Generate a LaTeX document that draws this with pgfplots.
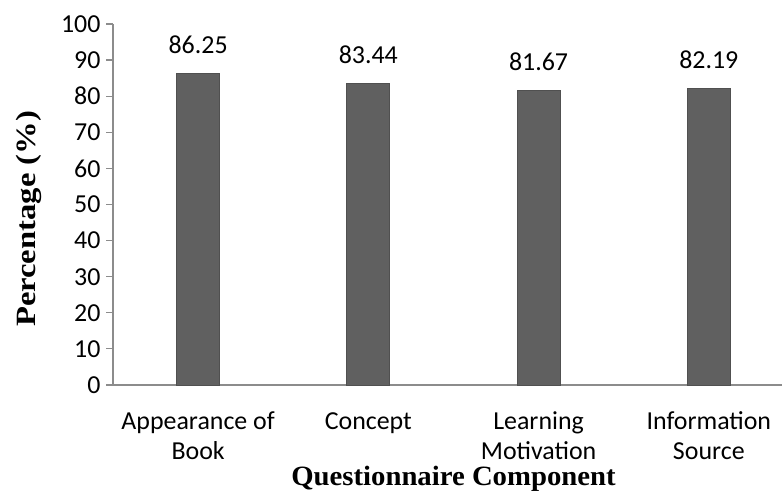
\documentclass[border=0pt]{standalone}
\usepackage{pgfplots}
\pgfplotsset{compat=1.18}
\usepackage{fontspec}
\setmainfont{Carlito}
\newfontfamily\serifb{Liberation Serif}
\definecolor{barfill}{HTML}{606060}
\definecolor{baredge}{HTML}{505050}
\definecolor{axgray}{HTML}{8C8C8C}
\begin{document}
\begin{tikzpicture}[x=1bp,y=1bp]
\useasboundingbox (0,0) rectangle (782,494);
\begin{axis}[
  at={(113bp,109bp)}, anchor=south west,
  scale only axis, width=669bp, height=361bp,
  xmin=-0.5, xmax=3.43, ymin=0, ymax=100,
  ytick={0,10,...,100},
  xtick={0,1,2,3},
  xticklabels={{\strut Appearance of\\\strut Book},{\strut Concept\\\strut},{\strut Learning\\\strut Motivation},{\strut Information\\\strut Source}},
  xticklabel style={align=center, font=\fontsize{26}{30}\selectfont, anchor=north, yshift=-13bp},
  yticklabel style={font=\fontsize{26}{30}\selectfont, xshift=-2bp},
  /pgf/number format/assume math mode=true,
  axis x line*=bottom, axis y line*=left,
  axis line style={axgray, line width=1.2bp},
  x axis line style={-}, y axis line style={-},
  major tick length=7bp,
  xtick style={draw=none},
  ytick style={axgray, line width=1.2bp},
  tick align=outside,
  ybar, bar width=43bp,
  nodes near coords,
  nodes near coords style={font=\fontsize{26}{30}\selectfont, anchor=base, yshift=20bp, /pgf/number format/fixed, /pgf/number format/precision=2, /pgf/number format/fixed zerofill},
  ylabel={\scalebox{1.17}[1]{\serifb\bfseries Percentage (\%)}},
  ylabel style={font=\fontsize{28}{30}\selectfont, at={(axis description cs:-0.125,0.46)}, anchor=center},
  xlabel={\scalebox{1.03}[1]{\serifb\bfseries Questionnaire Component}},
  xlabel style={font=\fontsize{28}{30}\selectfont, at={(axis description cs:0.509,-0.26)}, anchor=center},
  clip=false,
]
\addplot[fill=barfill, draw=baredge, line width=0.8bp] coordinates {(0,86.25) (1,83.44) (2,81.67) (3,82.19)};
\end{axis}
\end{tikzpicture}
\end{document}
